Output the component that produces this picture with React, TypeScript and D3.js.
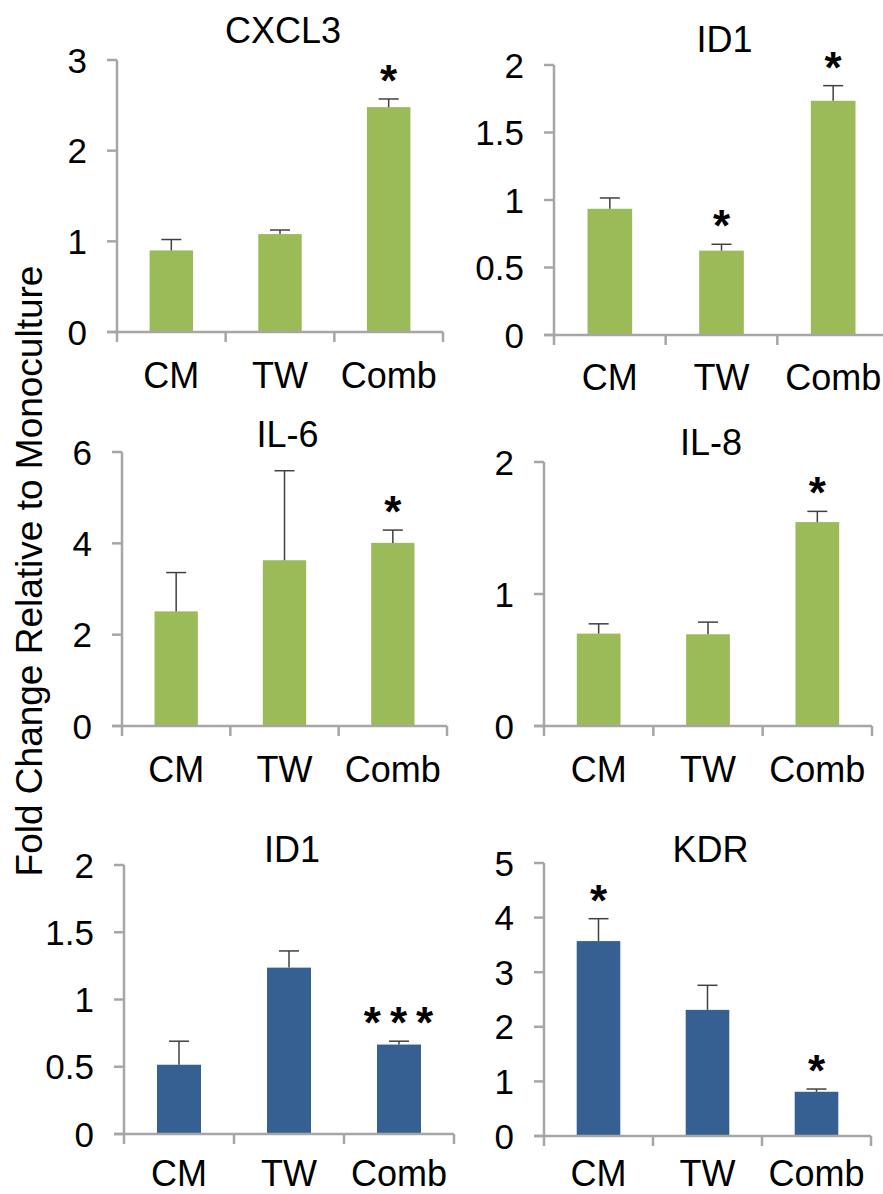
import React from 'react';
import { scaleLinear, scaleBand, range } from 'd3';

// categories shared by all panels
const categories = ['CM', 'TW', 'Comb'];

// panel titles (reading order)
const titles = ['CXCL3', 'ID1', 'IL-6', 'IL-8', 'ID1', 'KDR'];

// mean fold change per panel
const cxcl3Values = [0.9, 1.08, 2.48];
const id1TopValues = [0.935, 0.625, 1.735];
const il6Values = [2.51, 3.63, 4.01];
const il8Values = [0.7, 0.695, 1.545];
const id1BottomValues = [0.515, 1.237, 0.665];
const kdrValues = [3.57, 2.31, 0.81];

// upper error (bar top + error)
const cxcl3Err = [1.02, 1.125, 2.57];
const id1TopErr = [1.015, 0.672, 1.847];
const il6Err = [3.36, 5.59, 4.29];
const il8Err = [0.774, 0.787, 1.626];
const id1BottomErr = [0.69, 1.361, 0.69];
const kdrErr = [3.98, 2.76, 0.86];

// significance marks
const cxcl3Sig = ['', '', '*'];
const id1TopSig = ['', '*', '*'];
const il6Sig = ['', '', '*'];
const il8Sig = ['', '', '*'];
const id1BottomSig = ['', '', '***'];
const kdrSig = ['*', '', '*'];

// y axis max and tick step
const yMax = [3, 2, 6, 2, 2, 5];
const yStep = [1, 0.5, 2, 1, 0.5, 1];

const GREEN = '#9BBB59';
const BLUE = '#376092';
const AXIS = '#A6A6A6';
const FONT = '"Liberation Sans", Arial, Helvetica, sans-serif';

// layout of the six panels: axis left/right, top and zero y, title baseline, category label offset
const layout = [
  { x0: 117, x1: 443, top: 60, zero: 332, titleY: 43, catDy: 56, color: GREEN },
  { x0: 554, x1: 889, top: 65, zero: 335, titleY: 52, catDy: 55, color: GREEN },
  { x0: 122, x1: 447, top: 452, zero: 726, titleY: 447, catDy: 56, color: GREEN },
  { x0: 544, x1: 872, top: 462, zero: 726, titleY: 455, catDy: 56, color: GREEN },
  { x0: 124, x1: 454, top: 865, zero: 1134, titleY: 862, catDy: 52, color: BLUE },
  { x0: 544, x1: 871, top: 863, zero: 1136, titleY: 862, catDy: 50, color: BLUE },
];

const values = [cxcl3Values, id1TopValues, il6Values, il8Values, id1BottomValues, kdrValues];
const errs = [cxcl3Err, id1TopErr, il6Err, il8Err, id1BottomErr, kdrErr];
const sigs = [cxcl3Sig, id1TopSig, il6Sig, il8Sig, id1BottomSig, kdrSig];

const Panel = ({ i }: { i: number }) => {
  const L = layout[i];
  const y = scaleLinear().domain([0, yMax[i]]).range([L.zero, L.top]);
  const x = scaleBand().domain(categories).range([L.x0, L.x1]).paddingInner(0).paddingOuter(0);
  const bw = x.bandwidth() * 0.4;
  const ticks = range(0, yMax[i] + yStep[i] / 2, yStep[i]);
  const boundaries = range(0, categories.length + 1).map((k) => L.x0 + k * x.bandwidth());

  return (
    <g>
      <text x={(L.x0 + L.x1) / 2 + 3} y={L.titleY} fontSize={36} textAnchor="middle" fill="#000">
        {titles[i]}
      </text>
      {/* bars */}
      {categories.map((c, k) => {
        const cx = (x(c) as number) + x.bandwidth() / 2;
        return (
          <g key={c}>
            <rect x={cx - bw / 2} y={y(values[i][k])} width={bw} height={L.zero - y(values[i][k])} fill={L.color} />
            <line x1={cx} x2={cx} y1={y(values[i][k])} y2={y(errs[i][k])} stroke="#404040" strokeWidth={1.5} />
            <line x1={cx - 10} x2={cx + 10} y1={y(errs[i][k])} y2={y(errs[i][k])} stroke="#404040" strokeWidth={1.5} />
            {sigs[i][k] && (
              <text
                x={cx + (sigs[i][k].length > 1 ? 4 : 0)}
                y={y(errs[i][k]) - 28 + 25}
                fontSize={44}
                fontWeight="bold"
                textAnchor="middle"
                letterSpacing={sigs[i][k].length > 1 ? 9 : 0}
              >
                {sigs[i][k]}
              </text>
            )}
          </g>
        );
      })}
      {/* y axis */}
      <line x1={L.x0} x2={L.x0} y1={L.top} y2={L.zero} stroke={AXIS} strokeWidth={2.5} />
      {ticks.map((t) => (
        <g key={t}>
          <line x1={L.x0 - 10} x2={L.x0} y1={y(t)} y2={y(t)} stroke={AXIS} strokeWidth={2.5} />
          <text x={L.x0 - 30} y={y(t) + 12.5} fontSize={35} textAnchor="end">
            {t}
          </text>
        </g>
      ))}
      {/* x axis */}
      <line x1={L.x0 - 10} x2={L.x1} y1={L.zero} y2={L.zero} stroke={AXIS} strokeWidth={2.5} />
      {boundaries.map((bx, k) => (
        <line key={k} x1={bx} x2={bx} y1={L.zero} y2={L.zero + 10} stroke={AXIS} strokeWidth={2.5} />
      ))}
      {categories.map((c) => (
        <text key={c} x={(x(c) as number) + x.bandwidth() / 2} y={L.zero + L.catDy} fontSize={36} textAnchor="middle">
          {c}
        </text>
      ))}
    </g>
  );
};

export default function App() {
  return (
    <div>
      <style>{'body{margin:0}'}</style>
      <svg width={883} height={1194} style={{ display: 'block', background: '#fff' }} fontFamily={FONT}>
        <rect width={883} height={1194} fill="#fff" />
        {layout.map((_, i) => (
          <Panel key={i} i={i} />
        ))}
        <text transform="translate(42,571) rotate(-90)" fontSize={37} textAnchor="middle">
          Fold Change Relative to Monoculture
        </text>
      </svg>
    </div>
  );
}
